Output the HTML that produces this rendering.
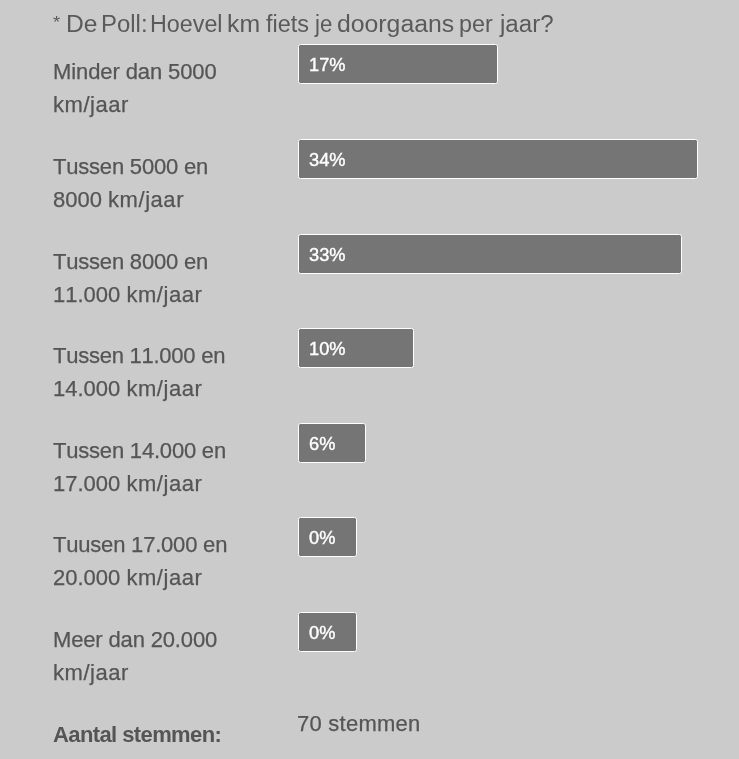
<!DOCTYPE html>
<html lang="nl">
<head>
<meta charset="utf-8">
<title>De Poll</title>
<style>
  html, body { margin: 0; padding: 0; }
  body {
    width: 739px; height: 759px; overflow: hidden; position: relative;
    background: #cbcbcb; color: #555;
    font-family: "Liberation Sans", sans-serif;
  }
  .title {
    position: absolute; left: 0; top: 10px; margin: 0; width: 739px; height: 28px;
    font-size: 23px; line-height: 28px; font-weight: normal;
    white-space: nowrap; color: #5a5a5a;
  }
  .title span { position: absolute; top: 0; transform-origin: 0 50%; }
  .title .star { font-size: 16px; top: -1px; }
  .poll { position: absolute; left: 0; top: 0; width: 739px; margin: 0; padding: 0; list-style: none; }
  .row { position: absolute; left: 0; width: 739px; height: 95px; }
  .label {
    position: absolute; left: 53px; top: 11px; width: 240px;
    font-size: 22px; line-height: 33px; white-space: nowrap; color: #555;
    font-kerning: none;
    -webkit-text-stroke: 0.25px #555;
  }
  .label div { height: 33px; }
  .bar {
    position: absolute; left: 298px; top: 0; height: 38px;
    box-sizing: content-box;
    border: 1px solid #fff; border-radius: 2.5px;
    background: #757575; color: #fff;
    font-size: 18.5px; line-height: 39px; white-space: nowrap;
    -webkit-text-stroke: 0.4px #fff;
  }
  .bar span { display: inline-block; margin-left: 10px; transform: scaleX(0.985); transform-origin: 0 50%; }
  .total .label { font-weight: bold; font-size: 22px; -webkit-text-stroke: 0; }
  .total .count { position: absolute; left: 297px; top: 0; font-size: 22px; line-height: 33px; white-space: nowrap; color: #555; -webkit-text-stroke: 0.25px #555; }
</style>
</head>
<body>
<h3 class="title"><span class="star" style="left:53.00px;transform:scaleX(1.150)">*</span> <span style="left:65.50px;transform:scaleX(1.070)">De</span> <span style="left:100.50px;transform:scaleX(1.040)">Poll:</span> <span style="left:149.70px;transform:scaleX(1.013)">Hoevel</span> <span style="left:226.50px;transform:scaleX(1.080)">km</span> <span style="left:265.50px;transform:scaleX(1.020)">fiets</span> <span style="left:315.30px;transform:scaleX(0.967)">je</span> <span style="left:336.50px;transform:scaleX(1.078)">doorgaans</span> <span style="left:459.00px;transform:scaleX(1.016)">per</span> <span style="left:500.00px;transform:scaleX(1.047)">jaar?</span></h3>
<ul class="poll">
  <li class="row" style="top:44px"><div class="label" style="top:11px"><div style="letter-spacing:-0.10px">Minder dan 5000</div><div style="letter-spacing:0.00px"><span style="letter-spacing:0.55px">km/jaar</span></div></div><div class="bar" style="width:198px"><span>17%</span></div></li>
  <li class="row" style="top:139px"><div class="label" style="top:11px"><div style="letter-spacing:-0.20px">Tussen 5000 en</div><div style="letter-spacing:0.00px">8000 <span style="letter-spacing:0.55px">km/jaar</span></div></div><div class="bar" style="width:398px"><span>34%</span></div></li>
  <li class="row" style="top:234px"><div class="label" style="top:11px"><div style="letter-spacing:-0.20px">Tussen 8000 en</div><div style="letter-spacing:0.00px">11.000 <span style="letter-spacing:0.55px">km/jaar</span></div></div><div class="bar" style="width:382px"><span>33%</span></div></li>
  <li class="row" style="top:328px"><div class="label" style="top:11px"><div style="letter-spacing:-0.25px">Tussen 11.000 en</div><div style="letter-spacing:0.00px">14.000 <span style="letter-spacing:0.55px">km/jaar</span></div></div><div class="bar" style="width:114px"><span>10%</span></div></li>
  <li class="row" style="top:423px"><div class="label" style="top:11px"><div style="letter-spacing:-0.20px">Tussen 14.000 en</div><div style="letter-spacing:0.00px">17.000 <span style="letter-spacing:0.55px">km/jaar</span></div></div><div class="bar" style="width:66px"><span>6%</span></div></li>
  <li class="row" style="top:517px"><div class="label" style="top:11px"><div style="letter-spacing:-0.20px">Tuusen 17.000 en</div><div style="letter-spacing:0.00px">20.000 <span style="letter-spacing:0.55px">km/jaar</span></div></div><div class="bar" style="width:57px"><span>0%</span></div></li>
  <li class="row" style="top:612px"><div class="label" style="top:11px"><div style="letter-spacing:-0.15px">Meer dan 20.000</div><div style="letter-spacing:0.00px"><span style="letter-spacing:0.55px">km/jaar</span></div></div><div class="bar" style="width:57px"><span>0%</span></div></li>
  <li class="row total" style="top:707px"><div class="label" style="top:11px;letter-spacing:-0.60px"><div>Aantal stemmen:</div></div><div class="count" style="top:0px;letter-spacing:0.25px">70 stemmen</div></li>
</ul>
</body>
</html>
